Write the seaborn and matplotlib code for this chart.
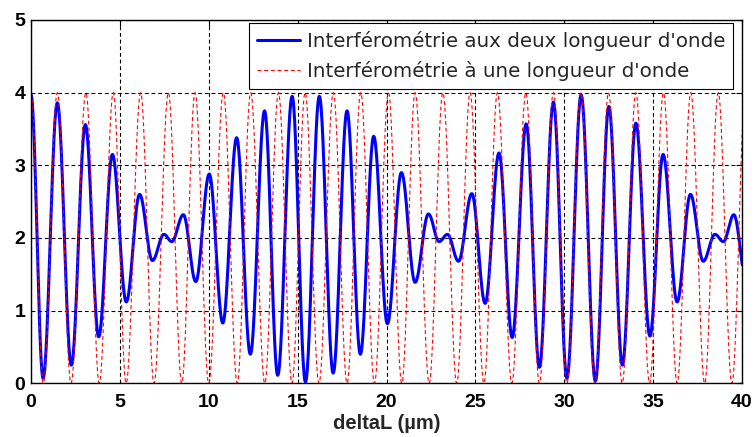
import numpy as np
import pandas as pd
import seaborn as sns
import matplotlib
matplotlib.use("Agg")
import matplotlib.pyplot as plt

# peaks and troughs: deltaL (um) and intensity
two_wl_x = [0.0, 0.68, 1.48, 2.27, 3.06, 3.81, 4.58, 5.36, 6.11,
            6.83, 7.48, 7.92, 8.57, 9.27, 10.03, 10.79, 11.57, 12.34,
            13.14, 13.88, 14.69, 15.44, 16.22, 17.0, 17.78, 18.53, 19.28,
            20.05, 20.84, 21.61, 22.36, 22.96, 23.43, 24.05, 24.80, 25.55,
            26.33, 27.07, 27.86, 28.60, 29.39, 30.15, 30.95, 31.75, 32.51,
            33.27, 34.03, 34.82, 35.56, 36.35, 37.10, 37.82, 38.48, 38.95,
            39.54, 40.25]
two_wl_y = [3.97, 0.07, 3.86, 0.25, 3.56, 0.64, 3.15, 1.12, 2.60,
            1.69, 2.05, 1.95, 2.32, 1.40, 2.88, 0.83, 3.38, 0.40,
            3.75, 0.11, 3.95, 0.02, 3.95, 0.14, 3.75, 0.40, 3.40,
            0.82, 2.90, 1.39, 2.33, 1.95, 2.05, 1.68, 2.61, 1.10,
            3.17, 0.63, 3.57, 0.22, 3.87, 0.07, 3.97, 0.03, 3.81,
            0.25, 3.58, 0.65, 3.15, 1.12, 2.60, 1.68, 2.05, 1.95,
            2.32, 1.40]

one_wl_x = [0.0, 0.69, 1.48, 2.25, 3.09, 3.84, 4.63, 5.35, 6.17, 6.92,
            7.73, 8.48, 9.23, 10.0, 10.82, 11.6, 12.36, 13.15, 13.92, 14.68,
            15.42, 16.2, 17.01, 17.78, 18.55, 19.32, 20.11, 20.86, 21.61, 22.4,
            23.17, 23.95, 24.70, 25.48, 26.24, 27.05, 27.84, 28.6, 29.39, 30.15,
            30.93, 31.72, 32.49, 33.26, 34.03, 34.8, 35.58, 36.35, 37.12, 37.9,
            38.66, 39.43, 40.2]
one_wl_y = [4, 0, 4, 0, 4, 0, 4, 0, 4, 0,
            4, 0, 4, 0, 4, 0, 4, 0, 4, 0,
            4, 0, 4, 0, 4, 0, 4, 0, 4, 0,
            4, 0, 4, 0, 4, 0, 4, 0, 4, 0,
            4, 0, 4, 0, 4, 0, 4, 0, 4, 0,
            4, 0, 4]

x_ticks = [0, 5, 10, 15, 20, 25, 30, 35, 40]
y_ticks = [0, 1, 2, 3, 4, 5]
label_two = "Interférométrie aux deux longueur d'onde"
label_one = "Interférométrie à une longueur d'onde"


def smooth_through(xs, ys, n=30):
    # cosine-shaped segment between each pair of extrema
    px, py = [], []
    for x0, x1, y0, y1 in zip(xs[:-1], xs[1:], ys[:-1], ys[1:]):
        t = np.linspace(0, 1, n, endpoint=False)
        px.append(x0 + (x1 - x0) * t)
        py.append(y0 + (y1 - y0) * (1 - np.cos(np.pi * t)) / 2)
    px.append([xs[-1]])
    py.append([ys[-1]])
    return np.concatenate(px), np.concatenate(py)


bx, by = smooth_through(two_wl_x, two_wl_y)
rx, ry = smooth_through(one_wl_x, one_wl_y)
df_two = pd.DataFrame({"deltaL": bx, "I": by})
df_one = pd.DataFrame({"deltaL": rx, "I": ry})

sns.set_style("white")
plt.rcParams["font.family"] = ["Liberation Sans", "DejaVu Sans"]

fig = plt.figure(figsize=(7.54, 4.37), dpi=100)
ax = fig.add_axes([31 / 754, 1 - 383.3 / 437, 711 / 754, 363.3 / 437])

sns.lineplot(data=df_two, x="deltaL", y="I", ax=ax, color="#0000ff",
             linewidth=2.2, estimator=None, sort=False, label=label_two)
sns.lineplot(data=df_one, x="deltaL", y="I", ax=ax, color="#ff0000",
             linewidth=0.8, linestyle=(0, (3.5, 2.5)), estimator=None,
             sort=False, label=label_one)

ax.set_xlim(0, 40)
ax.set_ylim(0, 5)
ax.set_xticks(x_ticks)
ax.set_yticks(y_ticks)
ax.grid(True, color="black", linestyle=(0, (3.5, 2.5)), linewidth=0.8)
ax.set_axisbelow(True)
for s in ax.spines.values():
    s.set_visible(True)
    s.set_color("black")
    s.set_linewidth(1.0)
ax.tick_params(axis="both", direction="in", length=4, width=0.8,
               colors="black", top=True, right=True, labelsize=14)
ax.tick_params(axis="x", pad=8)
ax.tick_params(axis="y", pad=4)
for lab in ax.get_xticklabels() + ax.get_yticklabels():
    lab.set_fontweight("bold")

ax.set_xlabel("deltaL (µm)", fontsize=14.5, fontweight="bold", labelpad=2)
ax.set_ylabel("")

leg = ax.legend(loc="upper right", bbox_to_anchor=(0.9873, 0.9917),
                borderaxespad=0, frameon=True, fancybox=False,
                edgecolor="black", framealpha=1, handlelength=2.17,
                handletextpad=0.35, borderpad=0.4, labelspacing=0.5,
                prop={"family": "DejaVu Sans", "size": 14.3})
leg.get_frame().set_linewidth(0.8)

fig.savefig("out.png", dpi=100)
